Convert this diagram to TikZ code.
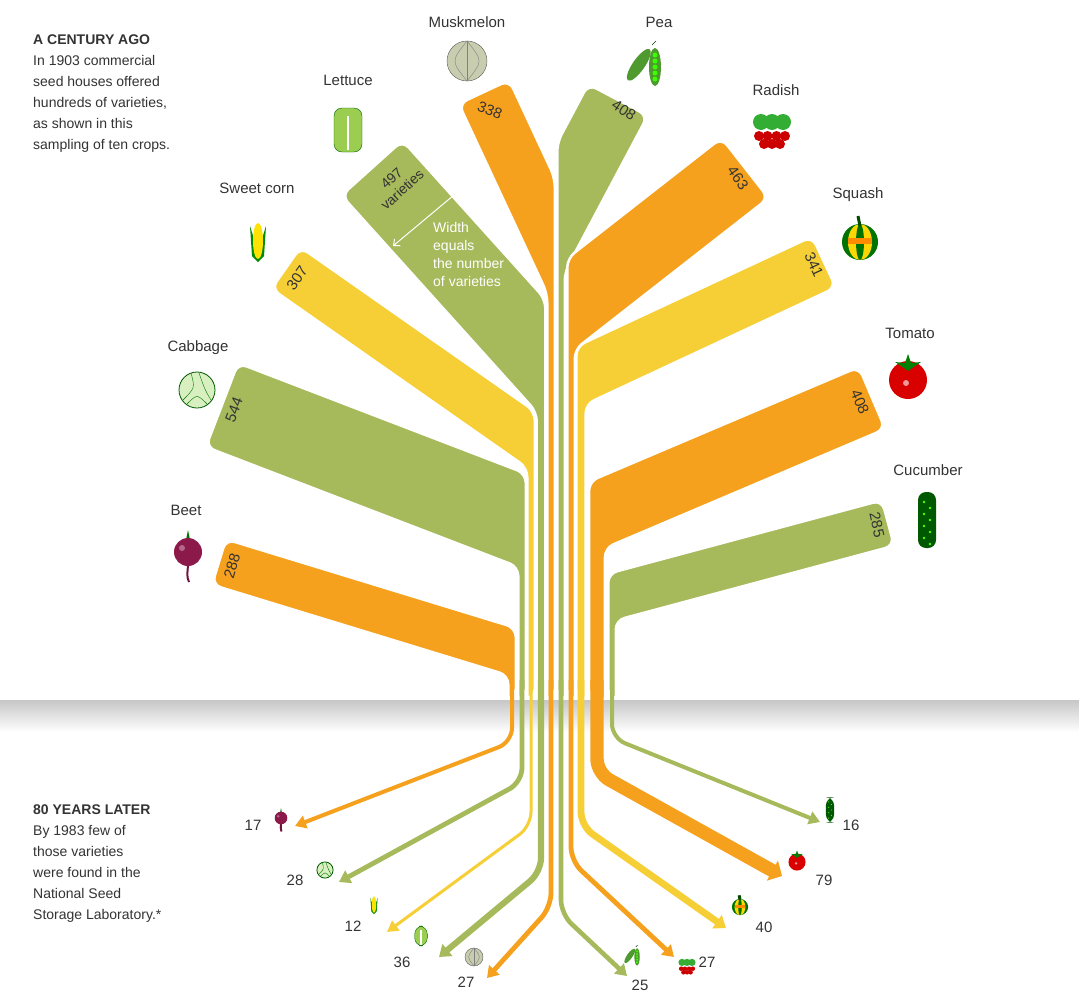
\documentclass[tikz,border=0pt]{standalone}
\usepackage{fontspec}
\setmainfont{Liberation Sans}
\usetikzlibrary{arrows.meta,shapes.geometric}
\definecolor{cor}{HTML}{F5A11E}
\definecolor{cye}{HTML}{F6CF36}
\definecolor{cgr}{HTML}{A6B95B}
\definecolor{txt}{HTML}{333333}
\definecolor{beetc}{HTML}{8B1A4A}
\definecolor{cabl}{HTML}{D8EFC0}
\definecolor{lett}{HTML}{9ACD50}
\definecolor{melon}{HTML}{C9CDB0}
\definecolor{peac}{HTML}{4E9A2E}
\newcommand\vband[8]{%
\pgfmathsetmacro\vW{#5*0.165}%
\pgfmathsetmacro\vca{cos(#4)}%
\pgfmathsetmacro\vsa{sin(#4)}%
\pgfmathsetmacro\vpx{(#8)*(\vsa)}%
\pgfmathsetmacro\vpy{(-1)*(#8)*(\vca)}%
\pgfmathsetmacro\vuox{#2+(\vW/2)*(\vpx)}%
\pgfmathsetmacro\vuoy{#3+(\vW/2)*(\vpy)}%
\pgfmathsetmacro\vlox{#2-(\vW/2)*(\vpx)}%
\pgfmathsetmacro\vloy{#3-(\vW/2)*(\vpy)}%
\pgfmathsetmacro\vutx{#6+(#8)*(#7)/2}%
\pgfmathsetmacro\vuty{\vuoy+((\vutx)-(\vuox))/(\vca)*(\vsa)}%
\pgfmathsetmacro\vltx{#6-(#8)*(#7)/2}%
\pgfmathsetmacro\vlty{\vloy+((\vltx)-(\vlox))/(\vca)*(\vsa)}%
\fill[#1,draw=white,line width=2.5pt,line join=round] (#2,#3) [rounded corners=9pt] -- (\vuox,\vuoy) -- (\vutx,\vuty) -- (\vutx,698) [sharp corners] -- (\vltx,698) [rounded corners=9pt] -- (\vltx,\vlty) -- (\vlox,\vloy) -- cycle;}
\newcommand\varrow[6]{%
\pgfmathsetmacro\vaw{#3+9}%
\draw[#1,line width=#3pt,-{Triangle[length=11pt,width=\vaw pt]},rounded corners=14pt] (#2,680) -- (#2,#4) -- (#5,#6);}
\tikzset{
 lbl/.style={text=txt,font=\fontsize{15}{18}\selectfont},
 num/.style={text=txt,font=\fontsize{15}{18}\selectfont},
 side/.style={text=txt,font=\fontsize{14}{21}\selectfont,align=left,anchor=north west,inner sep=0pt},
 beet/.pic={\fill[green!45!black] (-2,-12) -- (0,-22) -- (2,-12) -- cycle;
   \draw[beetc!80!black,line width=2pt] (0,10) .. controls (0,20) and (-2,24) .. (1,30);
   \fill[beetc] (0,0) circle (14); \fill[white,opacity=.35] (-6,-4) circle (3);},
 cabbage/.pic={\fill[cabl] (0,0) circle (18); \draw[green!35!black,line width=0.8pt] (0,0) circle (18);
   \draw[green!45!black] (-6,-17) .. controls (-2,-2) .. (-14,10);
   \draw[green!45!black] (2,-17) .. controls (8,0) .. (14,10);
   \draw[green!45!black] (-10,14) .. controls (0,4) .. (10,14);},
 corn/.pic={\fill[green!55!black] (-8,-16) -- (-6,14) -- (0,20) -- (6,14) -- (8,-16) -- (3,0) -- (-3,0) -- cycle;
   \fill[yellow!85!orange] (0,-1) ellipse (5 and 18);},
 lettuce/.pic={\fill[lett,rounded corners=8pt] (-14,-22) rectangle (14,22);
   \draw[green!40!black,rounded corners=8pt] (-14,-22) rectangle (14,22);
   \draw[white,line width=1.5pt] (0,-14) -- (0,20);},
 melon/.pic={\fill[melon] (0,0) circle (20); \draw[gray!70!black] (0,0) circle (20);
   \draw[gray] (0,-20) -- (0,20); \draw[gray] (0,-20) .. controls (-16,0) .. (0,20);
   \draw[gray] (0,-20) .. controls (16,0) .. (0,20);},
 pea/.pic={\fill[peac,rotate=-35] (-6,4) ellipse (6 and 19); \fill[peac] (9,2) ellipse (6 and 19);
   \foreach \q in {-12,-6,0,6,12} {\fill[green!70!lime] (9,2+\q) circle (2.5);}
   \draw[green!25!black] (6,-20) -- (10,-24);},
 radish/.pic={\foreach \q in {-11,0,11} {\fill[green!60!black!80] (\q,-8) circle (8);}
   \foreach \q in {-13,-4.5,4.5,13} {\fill[red!80!black] (\q,6) circle (5);}
   \foreach \q in {-8,0,8} {\fill[red!80!black] (\q,14) circle (5);}},
 squash/.pic={\fill[green!45!black] (0,0) circle (18); \fill[yellow!75!orange] (0,0) ellipse (12 and 18);
   \fill[green!45!black] (0,0) ellipse (4 and 18); \fill[orange!90!yellow] (-12,-4) rectangle (12,2);
   \draw[green!30!black,line width=3pt] (0,-16) -- (-2,-26);},
 tomato/.pic={\fill[red!85!black] (0,0) circle (19); \fill[white,opacity=.6] (-2,3) circle (3);
   \fill[green!50!black] (0,-26) -- (3,-17) -- (13,-18) -- (4,-12) -- (0,-9) -- (-4,-12) -- (-13,-18) -- (-3,-17) -- cycle;},
 cucumber/.pic={\fill[green!35!black,rounded corners=8pt] (-9,-28) rectangle (9,28);
   \foreach \q in {-18,-6,6,18} {\fill[green!60!lime] (-3,\q) circle (1.3); \fill[green!60!lime] (3,\q+6) circle (1.3);}}
}
\begin{document}
\begin{tikzpicture}[x=1pt,y=-1pt]
\useasboundingbox (0,0) rectangle (1079,993);
\fill[white] (0,0) rectangle (1079,993);
\shade[top color=black!22,bottom color=white] (0,700) rectangle (1079,732);
% bands: color, x0, y0, angle, count, xs, ws, side
\vband{cor}{219}{562}{17}{288}{512}{7.5}{1}
\vband{cgr}{222}{405}{21}{544}{522}{7.5}{1}
\vband{cye}{286}{268}{35}{307}{531}{7.5}{1}
\vband{cgr}{372}{168}{48}{497}{541}{8.6}{1}
\vband{cor}{484}{92}{65}{338}{551}{7.5}{1}
\vband{cgr}{618}{100}{118}{408}{561}{7.5}{-1}
\vband{cor}{745}{168}{142}{463}{571}{7.5}{-1}
\vband{cye}{824}{262}{155}{341}{581}{9.3}{-1}
\vband{cor}{872}{398}{157}{408}{597}{15.9}{-1}
\vband{cgr}{888}{523}{165}{285}{612}{7.5}{-1}
% lower arrows
\varrow{cor}{512}{4}{742}{295}{826}
\varrow{cgr}{522}{4.8}{782}{339}{882}
\varrow{cye}{531}{3}{826}{387}{932}
\varrow{cgr}{541}{6.1}{872}{439}{957}
\varrow{cor}{551}{4.8}{907}{487}{978}
\varrow{cgr}{561}{4.6}{914}{627}{976}
\varrow{cor}{571}{4.8}{861}{674}{957}
\varrow{cye}{581}{6.8}{826}{726}{928}
\varrow{cor}{597}{13.4}{773}{782}{876}
\varrow{cgr}{612}{4}{738}{820}{822}
% band numbers
\node[num,rotate=73] (n1) at (232,566) {288};
\node[num,rotate=69] (n2) at (234,410) {544};
\node[num,rotate=55] (n3) at (297,278) {307};
\node[num,rotate=42,align=center,inner sep=1pt,font=\fontsize{14}{16}\selectfont] (n4) at (397,184) {497\\varieties};
\node[num,rotate=-22] (n5) at (490,110) {338};
\node[num,rotate=-33] (n6) at (624,110) {408};
\node[num,rotate=-55] (n7) at (738,178) {463};
\node[num,rotate=-65] (n8) at (814,265) {341};
\node[num,rotate=-67] (n9) at (860,402) {408};
\node[num,rotate=-78] (n10) at (877,525) {285};
% width note
\node[side,text=white,font=\fontsize{14}{18}\selectfont] (wn) at (433,222) {Width\\equals\\the number\\of varieties};
\coordinate (wa) at (393,246);
\coordinate (wb) at (460,190);
\draw[white,line width=1pt,{Straight Barb[length=5pt,width=9pt]}-{Straight Barb[length=5pt,width=9pt]}] (wa) -- (wb);
% top labels & icons
\node[lbl] (t1) at (467,22) {Muskmelon};
\node[lbl] (t2) at (659,22) {Pea};
\node[lbl] (t3) at (348,80) {Lettuce};
\node[lbl] (t4) at (776,90) {Radish};
\node[lbl] (t5) at (257,188) {Sweet corn};
\node[lbl] (t6) at (858,195) {Squash};
\node[lbl] (t7) at (198,348) {Cabbage};
\node[lbl] (t8) at (910,333) {Tomato};
\node[lbl] (t9) at (186,510) {Beet};
\node[lbl] (t10) at (928,470) {Cucumber};
\pic at (467,61) {melon};
\pic at (646,65) {pea};
\pic at (348,130) {lettuce};
\pic at (772,130) {radish};
\pic at (258,242) {corn};
\pic at (860,242) {squash};
\pic at (197,390) {cabbage};
\pic at (908,380) {tomato};
\pic at (188,552) {beet};
\pic at (927,520) {cucumber};
% bottom icons
\pic[scale=.45] at (281,818) {beet};
\pic[scale=.45] at (325,870) {cabbage};
\pic[scale=.45] at (374,905) {corn};
\pic[scale=.45] at (421,936) {lettuce};
\pic[scale=.45] at (474,957) {melon};
\pic[scale=.45] at (633,956) {pea};
\pic[scale=.45] at (687,966) {radish};
\pic[scale=.45] at (740,907) {squash};
\pic[scale=.45] at (797,862) {tomato};
\pic[scale=.45] at (830,810) {cucumber};
\node[num] (b1) at (253,825) {17};
\node[num] (b2) at (295,880) {28};
\node[num] (b3) at (353,926) {12};
\node[num] (b4) at (402,962) {36};
\node[num] (b5) at (466,982) {27};
\node[num] (b6) at (640,985) {25};
\node[num] (b7) at (707,962) {27};
\node[num] (b8) at (764,927) {40};
\node[num] (b9) at (824,880) {79};
\node[num] (b10) at (851,825) {16};
% side texts
\node[side] (s1) at (33,35) {\textbf{A CENTURY AGO}\\In 1903 commercial\\seed houses offered\\hundreds of varieties,\\as shown in this\\sampling of ten crops.};
\node[side] (s2) at (33,805) {\textbf{80 YEARS LATER}\\By 1983 few of\\those varieties\\were found in the\\National Seed\\Storage Laboratory.*};
\end{tikzpicture}
\end{document}
